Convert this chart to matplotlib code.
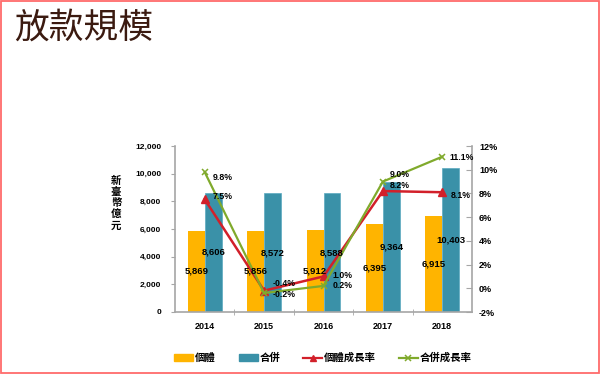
import matplotlib
matplotlib.use("Agg")
import matplotlib.pyplot as plt
from matplotlib.patches import Rectangle, Patch
from matplotlib.lines import Line2D
import numpy as np

plt.rcParams['font.family'] = ['Liberation Sans', 'Noto Sans CJK TC', 'DejaVu Sans']

years = ['2014', '2015', '2016', '2017', '2018']
individual = [5869, 5856, 5912, 6395, 6915]
consolidated = [8606, 8572, 8588, 9364, 10403]
ind_growth = [7.5, -0.2, 1.0, 8.2, 8.1]
con_growth = [9.8, -0.4, 0.2, 9.0, 11.1]
left_ticks = [0, 2000, 4000, 6000, 8000, 10000, 12000]
right_ticks = [-2, 0, 2, 4, 6, 8, 10, 12]

# label offsets in pixels (dx, dy up)
ind_off = [(8, 3), (9, -4), (9, 1), (7, 6), (8, -3)]
con_off = [(8, -5), (9, 10), (9, 0), (7, 7), (7, -1)]

C_OR = '#FFB400'
C_TE = '#3A91A8'
C_RED = '#D2202A'
C_GRN = '#80AA2C'
GRAY = '#A6A6A6'

fig = plt.figure(figsize=(6, 3.75), dpi=100)
ax = fig.add_axes([175/600, 1-312/375, 297/600, 166/375])
x = np.arange(len(years))
w = 0.286
ax.bar(x - w/2, individual, width=w, color=C_OR, zorder=2)
ax.bar(x + w/2, consolidated, width=w, color=C_TE, edgecolor='#5AAAC0', linewidth=0.5, zorder=2)
ax.set_xlim(-0.5, 4.5)
ax.set_ylim(0, 12000)
ax.set_yticks(left_ticks)
ax.set_yticklabels([f'{v:,}' for v in left_ticks], fontsize=6, fontweight='bold')
ax.set_xticks(x)
ax.set_xticklabels(years, fontsize=6.5, fontweight='bold')
ax.set_xticks([0.5, 1.5, 2.5, 3.5], minor=True)
ax.tick_params(axis='x', which='major', length=0, pad=7)
ax.tick_params(axis='x', which='minor', length=5, direction='inout', color=GRAY)
ax.tick_params(axis='y', length=3, direction='out', color=GRAY, pad=7)
for s in ['top', 'right']:
    ax.spines[s].set_visible(False)
for s in ['left', 'bottom']:
    ax.spines[s].set_color(GRAY)
    ax.spines[s].set_linewidth(1.2)

ax2 = ax.twinx()
ax2.set_ylim(-2, 12)
ax2.set_yticks(right_ticks)
ax2.set_yticklabels([f'{v}%' for v in right_ticks], fontsize=6.5, fontweight='bold')
ax2.tick_params(axis='y', length=4, direction='in', color=GRAY, pad=5)
for s in ['top', 'left', 'bottom']:
    ax2.spines[s].set_visible(False)
ax2.spines['right'].set_color(GRAY)
ax2.spines['right'].set_linewidth(1.2)

ax2.plot(x, ind_growth, color=C_RED, lw=1.8, marker='^', ms=5.5, zorder=3)
ax2.plot(x, con_growth, color=C_GRN, lw=1.6, marker='x', ms=5, mew=1.1, zorder=4)

pt = 0.72
for i in range(len(years)):
    ax2.annotate(f'{individual[i]:,}', xy=(x[i] - w/2, individual[i]/2), xycoords=ax.transData,
                 ha='center', va='center', fontsize=6.8, fontweight='bold', zorder=6)
    ax2.annotate(f'{consolidated[i]:,}', xy=(x[i] + w/2, consolidated[i]/2), xycoords=ax.transData,
                 ha='center', va='center', fontsize=6.8, fontweight='bold', zorder=6)
    dx, dy = ind_off[i]
    ax2.annotate(f'{ind_growth[i]:.1f}%', xy=(x[i], ind_growth[i]), xytext=(dx*pt, dy*pt),
                 textcoords='offset points', ha='left', va='center', fontsize=6.3, fontweight='bold', zorder=6)
    dx, dy = con_off[i]
    ax2.annotate(f'{con_growth[i]:.1f}%', xy=(x[i], con_growth[i]), xytext=(dx*pt, dy*pt),
                 textcoords='offset points', ha='left', va='center', fontsize=6.3, fontweight='bold', zorder=6)

# vertical y label
fig.text(116/600, 1-203/375, '\n'.join('新臺幣億元'), ha='center', va='center',
         fontsize=7.5, fontweight='bold', family=['Noto Sans CJK TC'], linespacing=1.15)

# title
fig.text(14/600, 1-28/375, '放款規模', ha='left', va='center', fontsize=25,
         color='#3B1A10', family=['Noto Sans CJK TC'], fontweight='light')

handles = [Patch(color=C_OR), Patch(color=C_TE),
           Line2D([], [], color=C_RED, lw=1.6, marker='^', ms=5),
           Line2D([], [], color=C_GRN, lw=1.6, marker='x', ms=5, mew=1.1)]
labels = ['個體', '合併', '個體成長率', '合併成長率']
leg = fig.legend(handles, labels, loc='center', bbox_to_anchor=(323/600, 1-358/375), ncol=4,
                 frameon=False, handlelength=1.8, handleheight=0.6, handletextpad=0.2,
                 columnspacing=2.2, prop={'family': ['Noto Sans CJK TC'], 'weight': 'bold', 'size': 7.5})

# slide border
fig.patches.append(Rectangle((0.8/600, 1-373/375), 598/600, 372.2/375, transform=fig.transFigure,
                             fill=False, edgecolor='#FF6B6B', lw=1.3))

fig.savefig('out.png', dpi=100)
